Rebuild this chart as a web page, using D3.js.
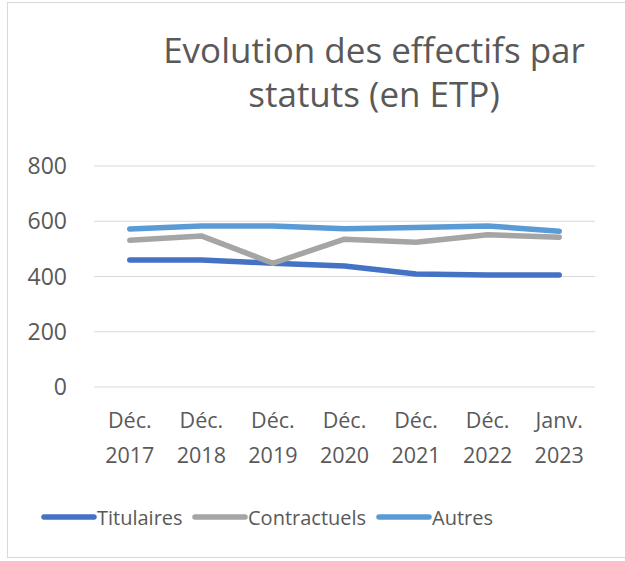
<html>
<head>
<meta charset="utf-8">
<style>
  body { margin: 0; background: #fff; }
  text { font-family: "Open Sans", sans-serif; fill: #595959; }
</style>
<script src="https://d3js.org/d3.v7.min.js"></script>
</head>
<body>
<div id="chart"></div>
<script>
// categories + values
var mois = ["Déc.", "Déc.", "Déc.", "Déc.", "Déc.", "Déc.", "Janv."];
var annees = ["2017", "2018", "2019", "2020", "2021", "2022", "2023"];
var titulaires = [460, 460, 448, 438, 409, 405, 405];
var contractuels = [531, 547, 448, 535, 524, 551, 542];
var autres = [572, 583, 583, 573, 577, 583, 564];
var yTicks = [0, 200, 400, 600, 800];

var series = [
  {name: "Titulaires", values: titulaires, color: "#4472C4"},
  {name: "Contractuels", values: contractuels, color: "#A5A5A5"},
  {name: "Autres", values: autres, color: "#5B9BD5"}
];

var W = 625, H = 561;
var svg = d3.select("#chart").append("svg").attr("width", W).attr("height", H);

// frame
svg.append("rect").attr("x", 7.5).attr("y", 2.5).attr("width", 620).attr("height", 555)
  .attr("fill", "#fff").attr("stroke", "#d9d9d9");

// title
svg.append("text").attr("x", 374).attr("y", 63).attr("text-anchor", "middle")
  .style("font-size", "35px").text("Evolution des effectifs par");
svg.append("text").attr("x", 374).attr("y", 107).attr("text-anchor", "middle")
  .style("font-size", "35px").text("statuts (en ETP)");

var x = d3.scaleBand().domain(d3.range(mois.length)).range([94, 595]);
var y = d3.scaleLinear().domain([0, 800]).range([387, 166]);

// gridlines
svg.append("g").selectAll("line").data(yTicks).enter().append("line")
  .attr("x1", 94).attr("x2", 595)
  .attr("y1", function(d) { return y(d); }).attr("y2", function(d) { return y(d); })
  .attr("stroke", "#d9d9d9").attr("stroke-width", 1.2);

// y axis labels
svg.append("g").selectAll("text").data(yTicks).enter().append("text")
  .attr("x", 67).attr("y", function(d) { return y(d) + 8; })
  .attr("text-anchor", "end").style("font-size", "23px")
  .text(function(d) { return d; });

// x axis labels (two lines)
var xl = svg.append("g").selectAll("text").data(d3.range(mois.length)).enter().append("text")
  .attr("text-anchor", "middle").style("font-size", "21.5px");
xl.append("tspan").attr("x", function(i) { return x(i) + x.bandwidth() / 2; }).attr("y", 428)
  .text(function(i) { return mois[i]; });
xl.append("tspan").attr("x", function(i) { return x(i) + x.bandwidth() / 2; }).attr("y", 463)
  .text(function(i) { return annees[i]; });

// lines
var line = d3.line()
  .x(function(d, i) { return x(i) + x.bandwidth() / 2; })
  .y(function(d) { return y(d); });

svg.append("g").selectAll("path").data(series).enter().append("path")
  .attr("d", function(s) { return line(s.values); })
  .attr("fill", "none")
  .attr("stroke", function(s) { return s.color; })
  .attr("stroke-width", 5.5)
  .attr("stroke-linecap", "round")
  .attr("stroke-linejoin", "round");

// legend
var legX = [42, 193, 377];
var leg = svg.append("g").selectAll("g").data(series).enter().append("g")
  .attr("transform", function(s, i) { return "translate(" + legX[i] + ",517)"; });
leg.append("line").attr("x1", 2).attr("x2", 52).attr("y1", 0).attr("y2", 0)
  .attr("stroke", function(s) { return s.color; }).attr("stroke-width", 5.5)
  .attr("stroke-linecap", "round");
leg.append("text").attr("x", 55).attr("y", 8).style("font-size", "20px")
  .text(function(s) { return s.name; });
</script>
</body>
</html>
